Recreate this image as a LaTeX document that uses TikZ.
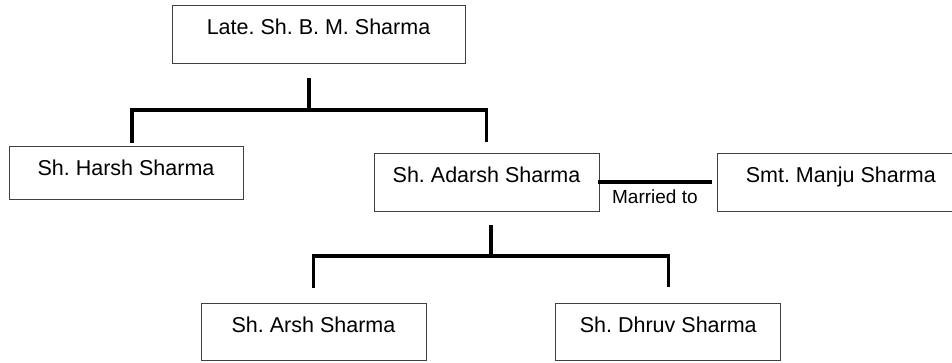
\documentclass[tikz,border=0pt]{standalone}
\usepackage{fontspec}
\setmainfont{Liberation Sans}
\usetikzlibrary{positioning,calc}

\begin{document}
\frenchspacing
\begin{tikzpicture}[
  x=1pt, y=-1pt,
  font=\fontsize{21.5}{25}\selectfont,
  person/.style={draw=black!75, line width=0.8pt, inner sep=0pt, align=center,
    minimum width=225pt, text height=29pt, text depth=29pt},
  link/.style={line width=3.2pt, line cap=rect},
  tag/.style={font=\fontsize{19}{22}\selectfont, inner sep=2pt},
]
  \useasboundingbox (0,0) rectangle (952,362);
  % generation 1
  \node[person, minimum width=293pt] (bms) at (318.5,34) {Late. Sh. B. M. Sharma};
  % generation 2
  \node[person, minimum width=234pt, text depth=24pt] (harsh) at (126,172.5) {Sh. Harsh Sharma};
  \node[person] (adarsh) at (486.5,182) {Sh. Adarsh Sharma};
  \node[person, minimum width=246pt, right=118pt of adarsh] (manju) {Smt. Manju Sharma};
  % generation 3
  \node[person, text depth=28pt] (arsh) at (313.5,331.5) {Sh. Arsh Sharma};
  \node[person, text depth=28pt, right=129pt of arsh] (dhruv) {Sh. Dhruv Sharma};

  \coordinate (fork1) at (309,110);
  \coordinate (fork2) at (491,256);
  \coordinate (wed) at ([xshift=-7pt]manju.west |- adarsh.east);
  \draw[link] ([xshift=-9.5pt,yshift=-16pt]bms.south) -- (fork1);
  \draw[link] ([xshift=6pt,yshift=4pt]harsh.north) |- (fork1) -| ([yshift=12pt]adarsh.north);
  \draw[link] (adarsh.east) -- (wed);
  \node[tag, below=6pt] (vow) at ($(adarsh.east)!0.5!(wed)$) {Married to};
  \draw[link] ([xshift=4.5pt,yshift=-15pt]adarsh.south) -- (fork2);
  \draw[link] ([yshift=16pt]arsh.north) |- (fork2) -| ([yshift=17pt]dhruv.north);
\end{tikzpicture}
\end{document}
